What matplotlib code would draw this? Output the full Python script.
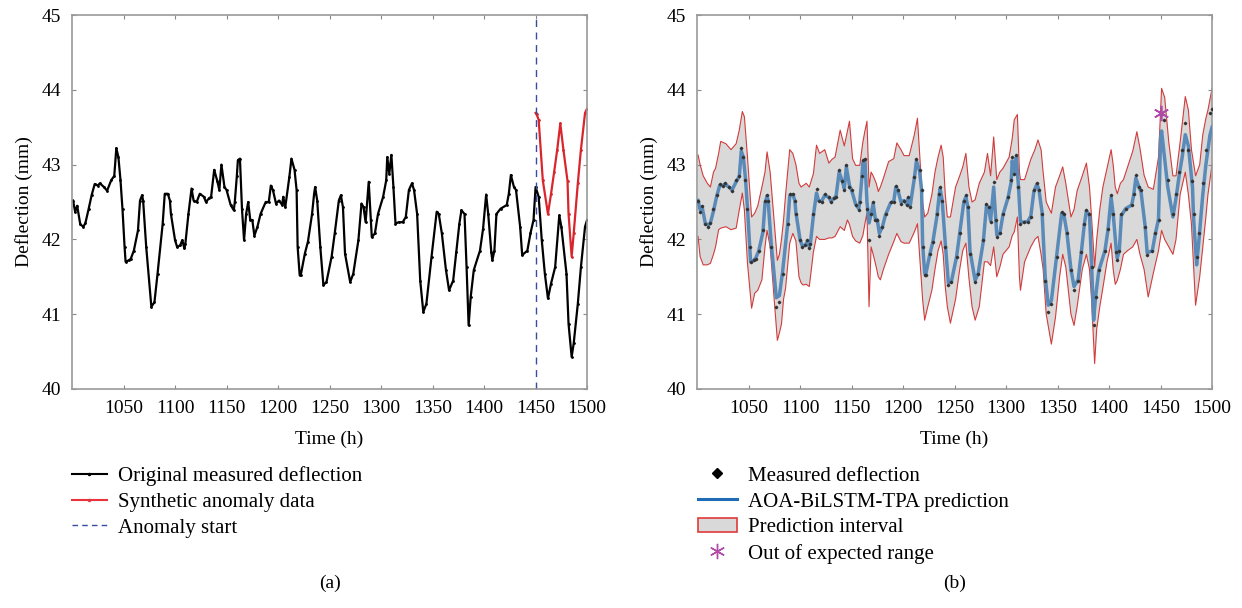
import numpy as np
import matplotlib.pyplot as plt
from matplotlib.lines import Line2D
from matplotlib.patches import Patch

plt.rcParams['font.family'] = ['Liberation Serif', 'DejaVu Serif']

# measured deflection (h, mm)
t_meas = [1001, 1003, 1005, 1008, 1011, 1013, 1016, 1019, 1022, 1025, 1027, 1031, 1034, 1038, 1041, 1043,
          1045, 1047, 1049, 1051, 1052, 1055, 1057, 1060, 1064, 1066, 1068, 1069, 1072, 1077, 1080, 1083,
          1088, 1090, 1093, 1095, 1096, 1100, 1102, 1105, 1107, 1109, 1110, 1113, 1116, 1118, 1121, 1124,
          1128, 1130, 1133, 1135, 1138, 1141, 1143, 1145, 1148, 1150, 1154, 1157, 1158, 1160, 1161, 1163,
          1165, 1167, 1169, 1171, 1173, 1175, 1177, 1180, 1183, 1188, 1191, 1193, 1195, 1198, 1201, 1204,
          1205, 1207, 1211, 1213, 1216, 1218, 1219, 1221, 1222, 1226, 1229, 1233, 1235, 1236, 1238, 1241,
          1244, 1247, 1252, 1255, 1259, 1261, 1263, 1265, 1270, 1273, 1278, 1281, 1283, 1285, 1288, 1290,
          1291, 1294, 1297, 1302, 1305, 1306, 1308, 1310, 1312, 1314, 1317, 1321, 1324, 1327, 1330, 1332,
          1335, 1338, 1341, 1344, 1349, 1354, 1356, 1359, 1363, 1366, 1370, 1373, 1376, 1378, 1381, 1383,
          1385, 1387, 1390, 1396, 1399, 1402, 1404, 1407, 1408, 1410, 1412, 1416, 1422, 1424, 1426, 1429,
          1431, 1435, 1437, 1442, 1445, 1448, 1450, 1453, 1456, 1459, 1462, 1465, 1469, 1473, 1475, 1480,
          1482, 1485, 1487, 1491, 1494, 1498, 1500]
y_meas = [42.52, 42.37, 42.45, 42.20, 42.17, 42.22, 42.40, 42.59, 42.74, 42.72, 42.75, 42.70, 42.65, 42.79,
          42.85, 43.22, 43.10, 42.80, 42.40, 41.90, 41.70, 41.72, 41.74, 41.85, 42.12, 42.52, 42.59, 42.52,
          41.90, 41.10, 41.16, 41.54, 42.21, 42.61, 42.61, 42.52, 42.34, 41.99, 41.90, 41.92, 41.99, 41.88,
          41.94, 42.34, 42.68, 42.52, 42.50, 42.61, 42.57, 42.50, 42.55, 42.57, 42.93, 42.78, 42.66, 43.00,
          42.70, 42.66, 42.46, 42.39, 42.50, 42.85, 43.06, 43.08, 42.40, 41.99, 42.34, 42.50, 42.26, 42.26,
          42.05, 42.17, 42.34, 42.50, 42.50, 42.72, 42.66, 42.48, 42.52, 42.46, 42.57, 42.43, 42.84, 43.08,
          42.93, 42.66, 41.90, 41.52, 41.52, 41.81, 41.97, 42.34, 42.61, 42.70, 42.52, 41.90, 41.39, 41.43,
          41.77, 42.08, 42.52, 42.59, 42.43, 41.81, 41.43, 41.54, 41.99, 42.48, 42.43, 42.23, 42.77, 42.26,
          42.03, 42.08, 42.34, 42.57, 42.79, 43.10, 42.88, 43.13, 42.70, 42.21, 42.23, 42.23, 42.30, 42.66,
          42.75, 42.66, 42.34, 41.45, 41.03, 41.14, 41.77, 42.37, 42.34, 42.08, 41.59, 41.32, 41.45, 41.83,
          42.21, 42.39, 42.34, 41.63, 40.85, 41.23, 41.59, 41.85, 42.14, 42.60, 42.34, 41.83, 41.72, 41.85,
          42.34, 42.41, 42.46, 42.61, 42.86, 42.70, 42.66, 42.17, 41.79, 41.85, 42.08, 42.26, 42.70, 42.57,
          41.99, 41.54, 41.21, 41.41, 41.63, 42.32, 42.17, 41.54, 40.87, 40.43, 40.61, 41.14, 41.63, 42.17,
          42.26]

# synthetic anomaly data
t_syn = [1450, 1451, 1453, 1457, 1462, 1465, 1468, 1471, 1474, 1477, 1481, 1482, 1485, 1487, 1491, 1494,
         1498, 1500]
y_syn = [43.69, 43.67, 43.60, 42.79, 42.34, 42.61, 42.90, 43.20, 43.55, 43.20, 42.78, 42.34, 41.77, 42.08,
         42.75, 43.20, 43.69, 43.75]
anomaly_start = 1450

# AOA-BiLSTM-TPA prediction (same hours as the measured series, then the anomaly hours)
y_pred_pre = [42.52, 42.40, 42.43, 42.22, 42.19, 42.22, 42.38, 42.57, 42.72, 42.72, 42.74, 42.70, 42.66, 42.77,
              42.84, 43.18, 43.10, 42.82, 42.42, 41.95, 41.70, 41.72, 41.75, 41.85, 42.10, 42.48, 42.58, 42.52,
              41.95, 41.22, 41.25, 41.56, 42.20, 42.58, 42.60, 42.52, 42.36, 42.00, 41.92, 41.92, 41.97, 41.90,
              41.94, 42.32, 42.62, 42.52, 42.51, 42.59, 42.56, 42.51, 42.55, 42.58, 42.90, 42.78, 42.68, 42.97,
              42.72, 42.66, 42.47, 42.41, 42.50, 42.82, 43.03, 43.06, 42.50, 42.22, 42.34, 42.48, 42.28, 42.26,
              42.08, 42.17, 42.33, 42.49, 42.51, 42.70, 42.66, 42.50, 42.52, 42.47, 42.55, 42.45, 42.82, 43.05,
              42.92, 42.66, 41.95, 41.55, 41.53, 41.80, 41.97, 42.32, 42.58, 42.68, 42.52, 41.95, 41.42, 41.44,
              41.77, 42.08, 42.50, 42.57, 42.43, 41.85, 41.45, 41.55, 41.98, 42.45, 42.43, 42.25, 42.70, 42.28,
              42.06, 42.08, 42.33, 42.56, 42.77, 43.05, 42.90, 43.10, 42.72, 42.24, 42.23, 42.24, 42.31, 42.64,
              42.74, 42.66, 42.36, 41.50, 41.12, 41.18, 41.76, 42.35, 42.34, 42.10, 41.60, 41.37, 41.46, 41.82,
              42.20, 42.38, 42.33, 41.68, 40.92, 41.24, 41.58, 41.85, 42.13, 42.56, 42.34, 41.86, 41.75, 41.86,
              42.32, 42.41, 42.46, 42.60, 42.82, 42.70, 42.64, 42.18, 41.82, 41.85, 42.08, 42.27]
y_pred_post = [43.35, 43.45, 43.20, 42.70, 42.30, 42.55, 42.85, 43.10, 43.40, 43.25, 42.70, 42.30, 41.66,
               41.95, 42.60, 43.00, 43.40, 43.50]

# prediction interval
t_band = [1001, 1003, 1006, 1010, 1013, 1016, 1018, 1021, 1023, 1028, 1033, 1038, 1041, 1044, 1046, 1049,
          1053, 1056, 1059, 1063, 1066, 1068, 1071, 1074, 1078, 1080, 1082, 1084, 1086, 1090, 1093, 1096,
          1099, 1101, 1103, 1106, 1109, 1113, 1116, 1119, 1124, 1128, 1131, 1134, 1139, 1143, 1146, 1148,
          1151, 1154, 1158, 1161, 1163, 1165, 1167, 1169, 1171, 1174, 1176, 1178, 1181, 1186, 1191, 1194,
          1198, 1201, 1206, 1211, 1214, 1217, 1219, 1221, 1224, 1228, 1231, 1234, 1237, 1239, 1241, 1243,
          1246, 1251, 1255, 1258, 1261, 1264, 1267, 1270, 1274, 1279, 1282, 1285, 1288, 1291, 1294, 1297,
          1303, 1306, 1308, 1311, 1313, 1314, 1318, 1324, 1328, 1331, 1334, 1336, 1339, 1344, 1348, 1352,
          1355, 1358, 1363, 1366, 1369, 1374, 1378, 1381, 1383, 1386, 1388, 1391, 1394, 1398, 1402, 1404,
          1406, 1408, 1411, 1414, 1418, 1423, 1427, 1430, 1434, 1438, 1443, 1448, 1451, 1454, 1458, 1462,
          1465, 1469, 1474, 1477, 1480, 1484, 1488, 1491, 1494, 1496, 1500]
y_upper = [43.13, 43.00, 42.85, 42.75, 42.70, 42.90, 42.95, 43.15, 43.31, 43.28, 43.20, 43.28, 43.46, 43.71,
           43.64, 43.10, 42.30, 42.35, 42.45, 42.70, 42.90, 43.17, 42.90, 42.40, 41.72, 41.80, 42.00, 42.26,
           42.60, 43.20, 43.15, 43.00, 42.75, 42.70, 42.72, 42.75, 42.70, 42.88, 43.26, 43.15, 43.20, 43.02,
           43.07, 43.10, 43.46, 43.25, 43.45, 43.58, 43.08, 42.99, 42.99, 43.30, 43.45, 43.58, 42.70, 42.90,
           42.85, 42.75, 42.64, 42.70, 42.82, 43.04, 43.08, 43.29, 43.20, 43.12, 43.12, 43.40, 43.62, 42.95,
           42.50, 42.30, 42.35, 42.60, 42.90, 43.10, 43.26, 43.10, 42.60, 42.30, 42.30, 42.70, 42.85, 42.97,
           43.15, 42.70, 42.50, 42.53, 42.75, 42.90, 43.15, 42.85, 43.37, 42.80, 42.90, 42.95, 43.10, 43.35,
           43.60, 43.67, 42.90, 42.80, 42.80, 43.07, 43.20, 43.33, 43.20, 42.90, 42.50, 42.35, 42.70, 42.85,
           42.97, 42.75, 42.30, 42.40, 42.65, 42.85, 43.02, 42.70, 42.30, 41.63, 42.00, 42.40, 42.70, 42.95,
           43.20, 43.00, 42.70, 42.61, 42.75, 42.80, 42.97, 43.18, 43.44, 43.22, 42.86, 42.70, 42.67, 43.10,
           44.02, 43.90, 43.30, 42.85, 42.85, 43.30, 43.91, 43.73, 43.20, 42.85, 43.00, 43.40, 43.62, 43.73,
           44.02]
y_lower = [42.04, 41.77, 41.66, 41.66, 41.68, 41.80, 41.90, 42.13, 42.15, 42.17, 42.13, 42.15, 42.39, 42.62,
           42.39, 41.68, 41.08, 41.28, 41.32, 41.46, 41.90, 42.12, 41.90, 41.37, 40.65, 40.75, 40.87, 41.20,
           41.35, 41.95, 42.08, 41.98, 41.50, 41.42, 41.39, 41.40, 41.37, 41.83, 42.04, 42.00, 42.00, 42.02,
           42.02, 42.04, 42.17, 42.12, 42.26, 42.20, 42.04, 41.98, 41.95, 42.05, 42.21, 42.35, 41.10, 41.90,
           41.80, 41.63, 41.50, 41.46, 41.60, 41.80, 41.97, 42.08, 41.97, 41.95, 41.95, 42.10, 42.21, 41.60,
           41.20, 40.92, 41.10, 41.32, 41.60, 41.85, 41.98, 41.80, 41.37, 41.10, 40.88, 41.20, 41.60, 41.85,
           41.95, 41.48, 41.10, 40.92, 41.10, 41.70, 41.70, 41.65, 41.90, 41.50, 41.63, 41.80, 41.90, 42.05,
           42.10, 42.30, 41.50, 41.32, 41.70, 41.90, 42.00, 42.04, 41.80, 41.60, 41.00, 40.60, 40.96, 41.50,
           41.80, 41.63, 41.00, 40.85, 41.10, 41.60, 41.80, 41.60, 41.20, 40.34, 40.80, 41.10, 41.35, 41.70,
           41.95, 41.60, 41.40, 41.45, 41.60, 41.80, 41.85, 41.90, 42.00, 41.80, 41.60, 41.23, 41.55, 41.85,
           42.12, 42.00, 41.90, 41.80, 42.00, 42.60, 42.90, 42.60, 42.20, 41.12, 41.50, 41.90, 42.30, 42.60,
           43.00]
out_t = [1450]
out_y = [43.69]

xticks = [1050, 1100, 1150, 1200, 1250, 1300, 1350, 1400, 1450, 1500]
yticks = [40, 41, 42, 43, 44, 45]

fig = plt.figure(figsize=(12.42, 6.08), dpi=100)
ax1 = fig.add_axes([0.058, 0.3602, 0.4147, 0.6151])
ax2 = fig.add_axes([0.5612, 0.3602, 0.4147, 0.6151])

t_meas = np.array(t_meas)
y_meas = np.array(y_meas)
pre = t_meas < anomaly_start

# (a)
ax1.plot(t_meas, y_meas, color='black', lw=1.6, marker='.', ms=2)
ax1.plot(t_syn, y_syn, color='#d8262c', lw=1.6, marker='.', ms=2)
ax1.axvline(anomaly_start, color='#3a4ca0', lw=1, ls=(0, (5, 4)))

# (b): measured after the anomaly start is the synthetic series
t_b = np.concatenate([t_meas[pre], t_syn])
y_b = np.concatenate([y_meas[pre], y_syn])
y_p = np.concatenate([y_pred_pre, y_pred_post])
ax2.fill_between(t_band, y_lower, y_upper, facecolor='#d9d9d9', edgecolor='none', zorder=1)
ax2.plot(t_band, y_upper, color='#d23c3c', lw=0.8, zorder=2)
ax2.plot(t_band, y_lower, color='#d23c3c', lw=0.8, zorder=2)
ax2.plot(t_b, y_p, color='#5a8ab8', lw=2.5, zorder=3)
ax2.plot(t_b, y_b, ls='none', marker='D', ms=1.3, color='#333333', zorder=4)
ax2.plot(out_t, out_y, ls='none', marker=(6, 2, 0), ms=11, mew=1.2, color='#b04aa8', zorder=5)

for ax in (ax1, ax2):
    ax.set_xlim(1000, 1500)
    ax.set_ylim(40, 45)
    ax.set_xticks(xticks)
    ax.set_yticks(yticks)
    ax.tick_params(direction='in', top=True, right=True, length=3, width=0.8, color='#888888',
                   labelsize=14, pad=8)
    for s in ax.spines.values():
        s.set_color('#999999')
        s.set_linewidth(1.2)
    ax.set_xlabel('Time (h)', fontsize=14, labelpad=10)
    ax.set_ylabel('Deflection (mm)', fontsize=14, labelpad=6)

h1 = [Line2D([], [], color='black', lw=1.5, marker='.', ms=3),
      Line2D([], [], color='#e8343a', lw=1.5, marker='.', ms=3),
      Line2D([], [], color='#3a4ca0', lw=1, ls=(0, (4, 3)))]
fig.legend(h1, ['Original measured deflection', 'Synthetic anomaly data', 'Anomaly start'],
           loc='upper left', bbox_to_anchor=(0.051, 0.247), frameon=False, fontsize=15,
           handlelength=1.7, handletextpad=0.5, labelspacing=0.3, borderaxespad=0)

h2 = [Line2D([], [], ls='none', marker='D', ms=5, color='black'),
      Line2D([], [], color='#1f6bb5', lw=2.2),
      Patch(facecolor='#d9d9d9', edgecolor='#e03a3a', lw=1.2),
      Line2D([], [], ls='none', marker=(6, 2, 0), ms=11, mew=1, color='#b04aa8')]
fig.legend(h2, ['Measured deflection', 'AOA-BiLSTM-TPA prediction', 'Prediction interval',
                'Out of expected range'],
           loc='upper left', bbox_to_anchor=(0.555, 0.247), frameon=False, fontsize=15,
           handlelength=1.9, handletextpad=0.5, labelspacing=0.3, borderaxespad=0)

fig.text(0.2655, 0.04, '(a)', ha='center', va='center', fontsize=14)
fig.text(0.7685, 0.04, '(b)', ha='center', va='center', fontsize=14)

fig.savefig('out.png', dpi=100)
